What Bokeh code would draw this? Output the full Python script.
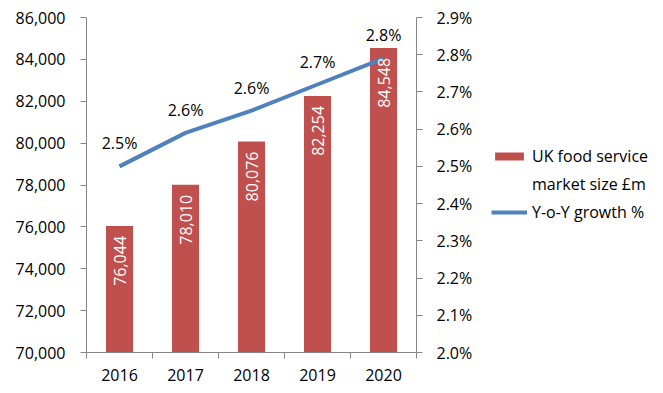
import math
from bokeh.plotting import figure
from bokeh.layouts import row
from bokeh.models import (Range1d, LinearAxis, FixedTicker, SingleIntervalTicker,
                          NumeralTickFormatter, PrintfTickFormatter, ColumnDataSource,
                          Legend, LegendItem)
from bokeh.core.properties import value
from bokeh.embed import file_html
from bokeh.resources import INLINE

years = ["2016", "2017", "2018", "2019", "2020"]
market_size = [76044, 78010, 80076, 82254, 84548]
growth = [2.50, 2.59, 2.65, 2.72, 2.79]
growth_labels = ["2.5%", "2.6%", "2.6%", "2.7%", "2.8%"]
legend_bar = ["UK food service", "market size £m"]
legend_line = "Y-o-Y growth %"

FONT = "Open Sans"
BAR = "#C0504D"
LINE = "#4F81BD"
AX = "#868686"

xs = [i + 0.5 for i in range(len(years))]
src = ColumnDataSource(dict(
    x=xs, year=years, size=market_size, size_lbl=[f"{v:,}" for v in market_size],
    g=growth, g_lbl=growth_labels))

p = figure(width=476, height=393, output_backend="svg", toolbar_location=None,
           x_range=Range1d(0, len(years)), y_range=Range1d(70000, 86000),
           min_border_left=86, min_border_right=60, min_border_top=17, min_border_bottom=41)
p.outline_line_color = None
p.xgrid.visible = False
p.ygrid.visible = False

p.extra_y_ranges = {"pct": Range1d(2.0, 2.9)}

p.vbar(x="x", top="size", bottom=70000, width=0.41, source=src,
       fill_color=BAR, line_color=None)
p.line(x="x", y="g", source=src, y_range_name="pct", line_color=LINE, line_width=4)

p.text(x="x", y="size", text="size_lbl", source=src, angle=math.pi / 2,
       text_align="right", text_baseline="middle", y_offset=10,
       text_color="white", text_font=value(FONT), text_font_size="16px")
p.text(x="x", y="g", text="g_lbl", source=src, y_range_name="pct",
       text_align="center", text_baseline="middle", y_offset=-23,
       text_color="black", text_font=value(FONT), text_font_size="16px")

xa = p.xaxis[0]
xa.ticker = FixedTicker(ticks=xs, minor_ticks=list(range(len(years) + 1)))
xa.major_label_overrides = {x: y for x, y in zip(xs, years)}
xa.major_tick_out = 0
xa.major_tick_in = 0
xa.minor_tick_out = 6
xa.minor_tick_in = 0
xa.minor_tick_line_color = AX
xa.axis_line_color = AX
xa.major_label_standoff = 10
xa.major_label_text_font = FONT
xa.major_label_text_font_size = "16px"
xa.major_label_text_color = "black"

ya = p.yaxis[0]
ya.ticker = SingleIntervalTicker(interval=2000)
ya.formatter = NumeralTickFormatter(format="0,0")
ya.major_tick_out = 6
ya.major_tick_in = 0
ya.minor_tick_out = 0
ya.minor_tick_in = 0
ya.axis_line_color = AX
ya.major_tick_line_color = AX
ya.major_label_standoff = 15
ya.major_label_text_font = FONT
ya.major_label_text_font_size = "16px"
ya.major_label_text_color = "black"

ra = LinearAxis(y_range_name="pct", ticker=FixedTicker(ticks=[2.0, 2.1, 2.2, 2.3, 2.4, 2.5, 2.6, 2.7, 2.8, 2.9]),
                formatter=PrintfTickFormatter(format="%.1f%%"))
ra.major_tick_out = 6
ra.major_tick_in = 0
ra.minor_tick_out = 0
ra.minor_tick_in = 0
ra.axis_line_color = AX
ra.major_tick_line_color = AX
ra.major_label_standoff = 14
ra.major_label_text_font = FONT
ra.major_label_text_font_size = "16px"
ra.major_label_text_color = "black"
p.add_layout(ra, "right")

# legend panel: a second, axis-less figure whose renderers only carry the styles
q = figure(width=187, height=393, output_backend="svg", toolbar_location=None,
           x_range=Range1d(0, 1), y_range=Range1d(0, 1),
           x_axis_type=None, y_axis_type=None,
           min_border_left=0, min_border_right=0, min_border_top=0, min_border_bottom=0)
q.outline_line_color = None
q.grid.visible = False
nan = float("nan")
proxy = ColumnDataSource(dict(x=[nan], top=[nan], y=[nan]))
lbar = q.vbar(x="x", top="top", width=0.5, source=proxy, fill_color=BAR, line_color=None)
lline = q.line(x="x", y="y", source=proxy, line_color=LINE, line_width=4)
lblank = q.scatter(x="x", y="y", source=proxy, fill_alpha=0, line_alpha=0)

lg = Legend(items=[
    LegendItem(label=legend_bar[0], renderers=[lbar]),
    LegendItem(label=legend_bar[1], renderers=[lblank]),
    LegendItem(label=legend_line, renderers=[lline]),
], location=(15, 129))
lg.border_line_color = None
lg.background_fill_alpha = 0
lg.padding = 0
lg.margin = 0
lg.spacing = 6
lg.glyph_width = 36
lg.glyph_height = 10
lg.label_standoff = 5
lg.label_text_font = FONT
lg.label_text_font_size = "16px"
lg.label_text_color = "black"
q.add_layout(lg, "center")

layout = row(p, q, spacing=0)
open("out.html", "w").write(file_html(layout, INLINE))
